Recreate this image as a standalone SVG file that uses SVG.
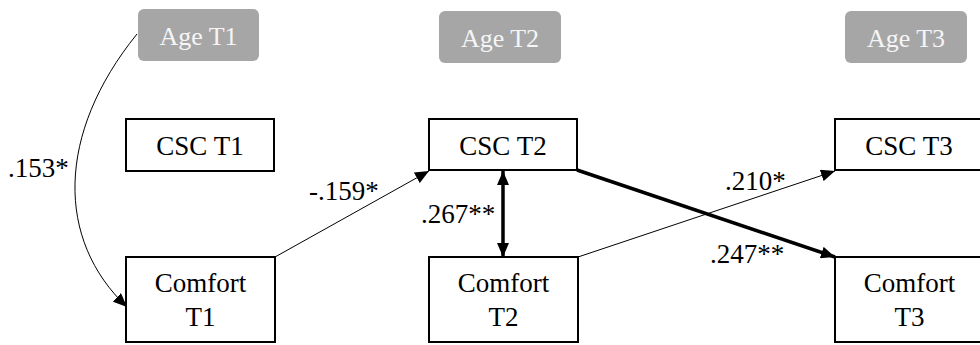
<svg xmlns="http://www.w3.org/2000/svg" width="980" height="345" viewBox="0 0 980 345">
<defs>
<style>
.box{fill:#fff;stroke:#000;stroke-width:2}
.age{fill:#a6a6a6;stroke:none}
.thin{fill:none;stroke:#000;stroke-width:1}
.thick{fill:none;stroke:#000;stroke-width:3.5}
</style>
<marker id="ah" viewBox="0 0 14 12" refX="14" refY="6" markerWidth="14" markerHeight="12" markerUnits="userSpaceOnUse" orient="auto-start-reverse">
<path d="M0,0 L14,6 L0,12 Z" fill="#000"/>
</marker>
</defs>
<g id="connectors">
<path class="thin" d="M137,34 C56,134 56,240 127,307" marker-end="url(#ah)"/>
<line class="thin" x1="275" y1="257" x2="429" y2="171" marker-end="url(#ah)"/>
<line class="thick" x1="503" y1="171" x2="503" y2="257" marker-start="url(#ah)" marker-end="url(#ah)"/>
<line class="thick" x1="577" y1="170" x2="835" y2="257" marker-end="url(#ah)"/>
<line class="thin" x1="578" y1="257" x2="835" y2="171" marker-end="url(#ah)"/>
<text font-family="Tinos, Liberation Serif, serif" font-size="27" x="8" y="177">.153*</text>
<text font-family="Tinos, Liberation Serif, serif" font-size="27" x="309" y="200">-.159*</text>
<text font-family="Tinos, Liberation Serif, serif" font-size="27" x="421" y="223">.267**</text>
<text font-family="Tinos, Liberation Serif, serif" font-size="27" x="725" y="190">.210*</text>
<text font-family="Tinos, Liberation Serif, serif" font-size="27" x="710" y="263">.247**</text>
</g>
<g id="age-t1"><rect class="age" x="138" y="9" width="121" height="52" rx="6"/><text font-family="Tinos, Liberation Serif, serif" font-size="26" fill="#f5f5f5" text-anchor="middle" x="198.5" y="45">Age T1</text></g>
<g id="age-t2"><rect class="age" x="439" y="11" width="122" height="52" rx="6"/><text font-family="Tinos, Liberation Serif, serif" font-size="26" fill="#f5f5f5" text-anchor="middle" x="500" y="47">Age T2</text></g>
<g id="age-t3"><rect class="age" x="845" y="11" width="122" height="52" rx="6"/><text font-family="Tinos, Liberation Serif, serif" font-size="26" fill="#f5f5f5" text-anchor="middle" x="906" y="47">Age T3</text></g>
<g id="csc-t1"><rect class="box" x="126" y="119" width="148" height="52"/><text font-family="Tinos, Liberation Serif, serif" font-size="27" text-anchor="middle" x="200" y="155">CSC T1</text></g>
<g id="comfort-t1"><rect class="box" x="126" y="257" width="149" height="85"/><text font-family="Tinos, Liberation Serif, serif" font-size="27" text-anchor="middle" x="200.5" y="292">Comfort</text><text font-family="Tinos, Liberation Serif, serif" font-size="27" text-anchor="middle" x="200.5" y="326">T1</text></g>
<g id="csc-t2"><rect class="box" x="429" y="119" width="148" height="51"/><text font-family="Tinos, Liberation Serif, serif" font-size="27" text-anchor="middle" x="503" y="155">CSC T2</text></g>
<g id="comfort-t2"><rect class="box" x="429" y="257" width="149" height="85"/><text font-family="Tinos, Liberation Serif, serif" font-size="27" text-anchor="middle" x="503.5" y="292">Comfort</text><text font-family="Tinos, Liberation Serif, serif" font-size="27" text-anchor="middle" x="503.5" y="326">T2</text></g>
<g id="csc-t3"><rect class="box" x="835" y="119" width="148" height="51"/><text font-family="Tinos, Liberation Serif, serif" font-size="27" text-anchor="middle" x="909" y="155">CSC T3</text></g>
<g id="comfort-t3"><rect class="box" x="835" y="257" width="149" height="85"/><text font-family="Tinos, Liberation Serif, serif" font-size="27" text-anchor="middle" x="909.5" y="292">Comfort</text><text font-family="Tinos, Liberation Serif, serif" font-size="27" text-anchor="middle" x="909.5" y="326">T3</text></g>
</svg>
